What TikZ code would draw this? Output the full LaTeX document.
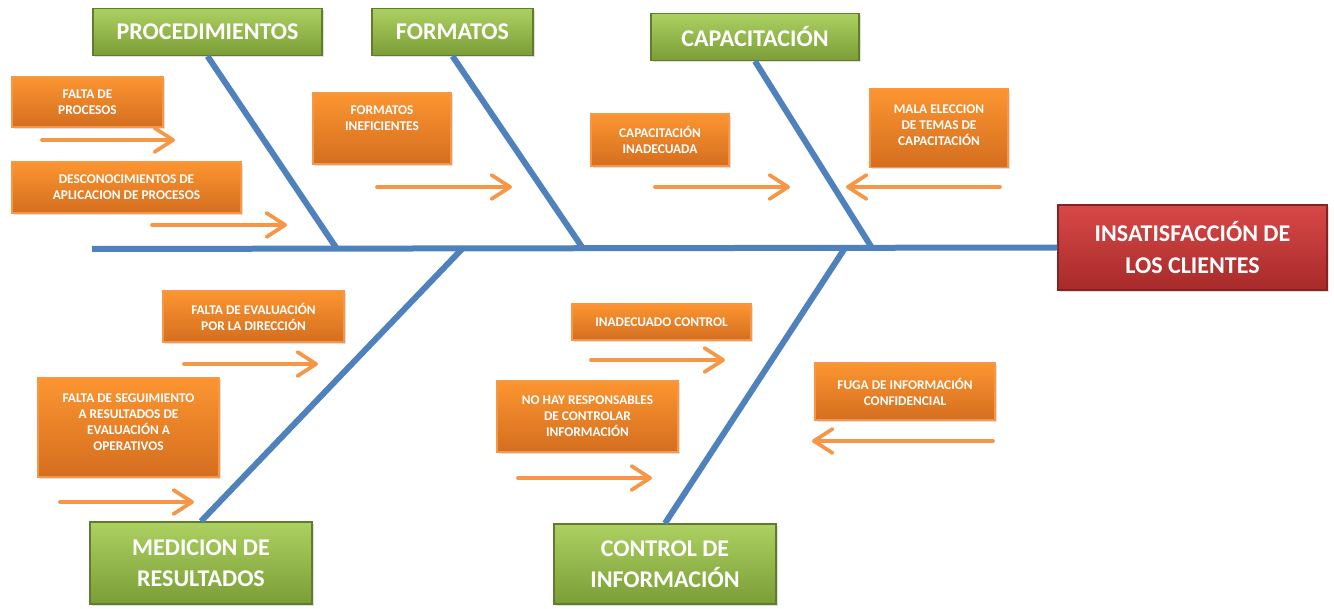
\documentclass[tikz,border=0pt]{standalone}
\usepackage{fontspec}
\setmainfont{Carlito}
\usetikzlibrary{arrows.meta,shadows}

\definecolor{bonecol}{HTML}{4F81BD}
\definecolor{arrcol}{HTML}{F79646}
\definecolor{grtop}{HTML}{ACD061}
\definecolor{grbot}{HTML}{7A9E36}
\definecolor{grline}{HTML}{5F7D2B}
\definecolor{ortop}{HTML}{FC9530}
\definecolor{orbot}{HTML}{D46E1F}
\definecolor{rdtop}{HTML}{D84848}
\definecolor{rdbot}{HTML}{A82A2A}
\newcommand\pxu{*0.75pt}

\begin{document}
\begin{tikzpicture}[x=0.75pt,y=-0.75pt,
		head/.style={draw=grline, line width=1pt, top color=grtop, bottom color=grbot, text=white,
			font=\fontsize{18}{23}\selectfont\bfseries, align=center, inner sep=0pt,
			drop shadow={opacity=0.25, shadow xshift=1.5pt, shadow yshift=-1.5pt}},
		cause/.style={draw=arrcol, line width=1pt, top color=ortop, bottom color=orbot, text=white,
			font=\fontsize{10}{12}\selectfont\bfseries, align=center, inner sep=0pt,
			drop shadow={opacity=0.25, shadow xshift=1.5pt, shadow yshift=-1.5pt}},
		effect/.style={draw=rdbot!80!black, line width=1pt, top color=rdtop, bottom color=rdbot, text=white,
			font=\fontsize{18}{24}\selectfont\bfseries, align=center, inner sep=0pt,
			drop shadow={opacity=0.25, shadow xshift=1.5pt, shadow yshift=-1.5pt}},
		bone/.style={draw=bonecol, line width=4.5pt},
		causearrow/.style={draw=arrcol, line width=2.8pt, line cap=round,
			-{Straight Barb[length=14pt, width=18pt, line width=2.8pt, round]}}
	]
		\useasboundingbox (0,0) rectangle (1334,609);
		
		%% main categories and effect
		\node[head, minimum width=229\pxu, minimum height=47\pxu] (proc) at (207.5,32) {PROCEDIMIENTOS};
		\node[head, minimum width=161\pxu, minimum height=47\pxu] (form) at (452.5,32) {FORMATOS};
		\node[head, minimum width=208\pxu, minimum height=47\pxu] (capa) at (755,37) {CAPACITACIÓN};
		\node[head, minimum width=222\pxu, minimum height=82\pxu] (medi) at (201,563) {MEDICION DE\\RESULTADOS};
		\node[head, minimum width=222\pxu, minimum height=80\pxu] (cont) at (665,564) {CONTROL DE\\INFORMACIÓN};
		\node[effect, minimum width=269\pxu, minimum height=85\pxu] (efec) at (1192.5,247.5) {INSATISFACCIÓN DE\\LOS CLIENTES};
		
		%% spine and bones
		\coordinate (tail) at (92,249);
		\coordinate (jproc) at (337,249);
		\coordinate (jform) at (583,248.5);
		\coordinate (jcapa) at (872,248);
		\coordinate (jmedi) at (462,249);
		\coordinate (jcont) at (845,248);
		\draw[bone] (tail) -- (efec.west);
		\draw[bone] (proc.south) -- (jproc);
		\draw[bone] (form.south) -- (jform);
		\draw[bone] (capa.south) -- (jcapa);
		\draw[bone] (medi.north) -- (jmedi);
		\draw[bone] (cont.north) -- (jcont);
		
		%% causes
		\node[cause, minimum width=151\pxu, minimum height=50\pxu] (c1) at (87.5,102) {FALTA DE\\PROCESOS};
		\node[cause, minimum width=229\pxu, minimum height=51\pxu] (c2) at (126.5,187.5) {DESCONOCIMIENTOS DE\\APLICACION DE PROCESOS};
		\node[cause, minimum width=138\pxu, minimum height=71\pxu] (c3) at (382,128.5) {FORMATOS\\INEFICIENTES\\[4pt] \mbox{}};
		\node[cause, minimum width=138\pxu, minimum height=52\pxu] (c4) at (660,140) {CAPACITACIÓN\\INADECUADA};
		\node[cause, minimum width=138\pxu, minimum height=79\pxu] (c5) at (939,128) {MALA ELECCION\\DE TEMAS DE\\CAPACITACIÓN\\[-7.5pt] \mbox{}};
		\node[cause, minimum width=181\pxu, minimum height=51\pxu] (c6) at (253.5,316.5) {FALTA DE EVALUACIÓN\\POR LA DIRECCIÓN};
		\node[cause, minimum width=181\pxu, minimum height=99\pxu] (c7) at (128.5,427.5) {FALTA DE SEGUIMIENTO\\A RESULTADOS DE\\EVALUACIÓN A\\OPERATIVOS\\[-4.5pt] \mbox{}};
		\node[cause, minimum width=179\pxu, minimum height=36\pxu] (c8) at (661.5,322) {INADECUADO CONTROL};
		\node[cause, minimum width=181\pxu, minimum height=71\pxu] (c9) at (587.5,416.5) {NO HAY RESPONSABLES\\DE CONTROLAR\\INFORMACIÓN};
		\node[cause, minimum width=180\pxu, minimum height=57\pxu] (c10) at (905,391.5) {FUGA DE INFORMACIÓN\\CONFIDENCIAL};
		
		%% cause arrows
		\coordinate (s1) at (42,140);    \coordinate (e1) at (175,140);
		\coordinate (s2) at (152,225);   \coordinate (e2) at (287,225);
		\coordinate (s3) at (377,187);   \coordinate (e3) at (512,187);
		\coordinate (s4) at (655,187);   \coordinate (e4) at (790,187);
		\coordinate (s5) at (1000,187);  \coordinate (e5) at (846,187);
		\coordinate (s6) at (184,364);   \coordinate (e6) at (318,364);
		\coordinate (s7) at (60,502);    \coordinate (e7) at (194,502);
		\coordinate (s8) at (591,360);   \coordinate (e8) at (725,360);
		\coordinate (s9) at (518,478);   \coordinate (e9) at (652,478);
		\coordinate (s10) at (993,441);  \coordinate (e10) at (812,441);
		\foreach \i in {1,...,10}
			\draw[causearrow] (s\i) -- (e\i);
	\end{tikzpicture}
\end{document}
